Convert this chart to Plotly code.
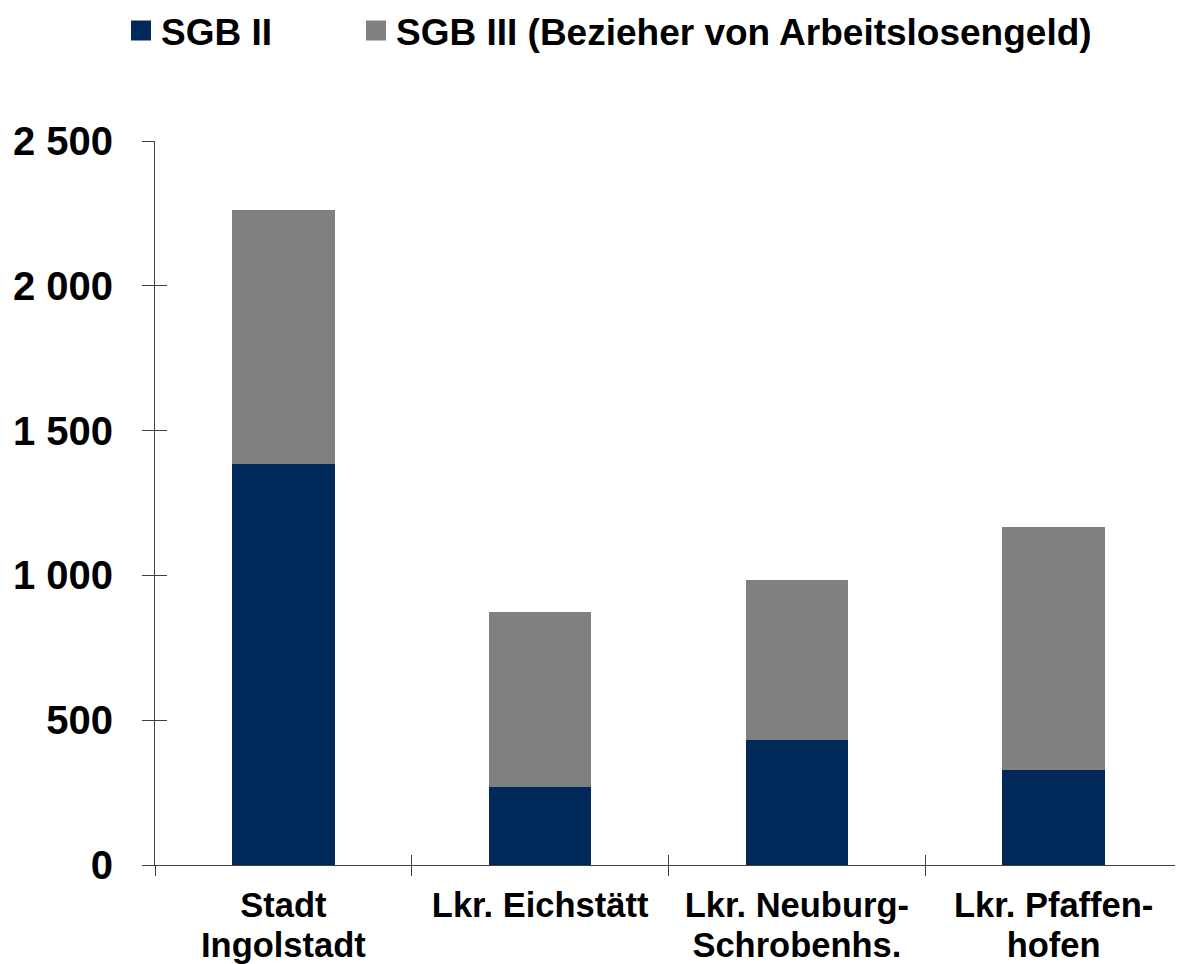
import plotly.graph_objects as go

categories = ["Stadt Ingolstadt", "Lkr. Eichstätt", "Lkr. Neuburg-Schrobenhs.", "Lkr. Pfaffenhofen"]
label_line1 = ["Stadt", "Lkr. Eichstätt", "Lkr. Neuburg-", "Lkr. Pfaffen-"]
label_line2 = ["Ingolstadt", "", "Schrobenhs.", "hofen"]
sgb2 = [1385, 269, 432, 328]
sgb3 = [877, 605, 552, 839]
series_names = ["SGB II", "SGB III (Bezieher von Arbeitslosengeld)"]
colors = ["#002858", "#808080"]
ytick_vals = [0, 500, 1000, 1500, 2000, 2500]
ytick_text = ["0", "500", "1 000", "1 500", "2 000", "2 500"]

FONT = "Arial, Liberation Sans, sans-serif"
AX = "#404040"
W, H = 1183, 964
OFF = 8  # page body margin
XFONT = dict(size=34.5, family=FONT, weight="bold")

fig = go.Figure()
legend_ids = ["legend", "legend2"]
for name, vals, col, lg in zip(series_names, [sgb2, sgb3], colors, legend_ids):
    fig.add_trace(go.Bar(x=categories, y=vals, name=name, marker=dict(color=col, line=dict(width=0)),
                         width=0.4, showlegend=False))
    fig.add_trace(go.Scatter(x=[None], y=[None], mode="markers", name=name, legend=lg,
                             marker=dict(symbol="square", size=16, color=col,
                                         line=dict(color=col, width=4))))

# helper traces for overlay axes (crossing ticks, second label line)
fig.add_trace(go.Scatter(x=[], y=[], xaxis="x2", yaxis="y2", showlegend=False, hoverinfo="skip"))
fig.add_trace(go.Scatter(x=[], y=[], xaxis="x3", yaxis="y2", showlegend=False, hoverinfo="skip"))

def leg(xpx):
    return dict(orientation="h", xref="container", x=(xpx - OFF) / W, xanchor="left",
                yref="container", y=1 - (31 - OFF) / H, yanchor="middle",
                font=dict(size=37, family=FONT, weight="bold"),
                bgcolor="rgba(0,0,0,0)", borderwidth=0)

idx = list(range(len(categories)))
bounds = [i - 0.5 for i in range(len(categories) + 1)]

fig.update_layout(
    width=W, height=H,
    barmode="stack",
    plot_bgcolor="white", paper_bgcolor="white",
    margin=dict(l=155 - OFF, r=W - (1182 - OFF), t=141 - OFF, b=H - (865 - OFF), autoexpand=False),
    font=dict(family=FONT, color="black", weight="bold"),
    legend=leg(121),
    legend2=leg(356),
    xaxis=dict(type="category", categoryorder="array", categoryarray=categories,
               tickvals=categories, ticktext=label_line1,
               showline=True, linecolor=AX, linewidth=1,
               ticks="outside", ticklen=10, tickcolor=AX, tickson="boundaries",
               tickfont=XFONT, ticklabelstandoff=10, automargin=False,
               showgrid=False, zeroline=False),
    yaxis=dict(range=[0, 2500], tickvals=ytick_vals, ticktext=ytick_text,
               showline=True, linecolor=AX, linewidth=1,
               ticks="outside", ticklen=12, tickcolor=AX,
               tickfont=dict(size=40, family=FONT, weight="bold"),
               ticklabelstandoff=21, automargin=False,
               showgrid=False, zeroline=False),
    xaxis2=dict(overlaying="x", anchor="y", range=[-0.5, 3.5],
                tickvals=bounds, ticks="inside", ticklen=10,
                tickcolor=AX, showticklabels=False, showline=False, showgrid=False, zeroline=False,
                side="bottom", automargin=False),
    xaxis3=dict(overlaying="x", anchor="y", range=[-0.5, 3.5],
                tickvals=idx, ticktext=label_line2, ticks="outside", ticklen=10,
                tickcolor="rgba(0,0,0,0)", tickfont=XFONT, ticklabelstandoff=40,
                showline=False, showgrid=False, zeroline=False,
                side="bottom", automargin=False),
    yaxis2=dict(overlaying="y", anchor="x", range=[0, 2500], tickvals=ytick_vals,
                ticks="inside", ticklen=12, tickcolor=AX, showticklabels=False,
                showline=False, showgrid=False, zeroline=False, side="left", automargin=False),
)

fig.write_html("out.html")
